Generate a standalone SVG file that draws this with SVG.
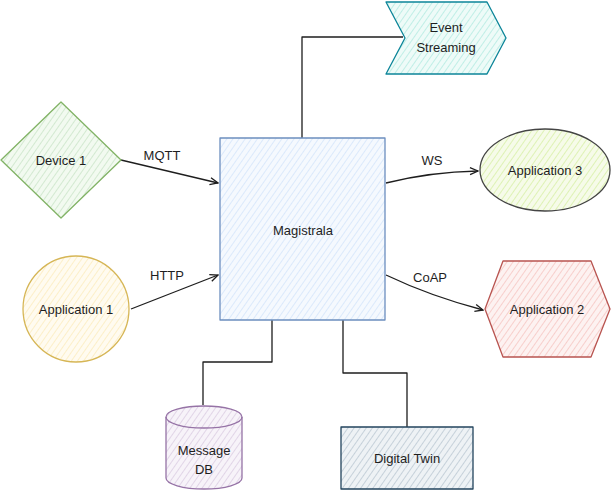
<svg xmlns="http://www.w3.org/2000/svg" width="611" height="491" viewBox="0 0 611 491">
<style>
text{font-family:"Liberation Sans","DejaVu Sans",sans-serif;font-size:13px;fill:#1e1e1e;text-anchor:middle;dominant-baseline:central}
.conn{fill:none;stroke:#1e1e1e;stroke-width:1.3;stroke-linejoin:round}
.shape{stroke-width:1.3;stroke-linejoin:round}
</style>
<defs>
<pattern id="hGreen" width="5" height="5" patternUnits="userSpaceOnUse" patternTransform="rotate(35)"><rect width="5" height="5" fill="#f2faf0"/><line x1="0" y1="0" x2="0" y2="5" stroke="#cce5c9" stroke-width="1.6"/></pattern>
<pattern id="hBlue" width="5" height="5" patternUnits="userSpaceOnUse" patternTransform="rotate(35)"><rect width="5" height="5" fill="#f5f9fe"/><line x1="0" y1="0" x2="0" y2="5" stroke="#d5e5fb" stroke-width="1.6"/></pattern>
<pattern id="hTeal" width="5" height="5" patternUnits="userSpaceOnUse" patternTransform="rotate(35)"><rect width="5" height="5" fill="#eefbf8"/><line x1="0" y1="0" x2="0" y2="5" stroke="#b5ebe2" stroke-width="1.6"/></pattern>
<pattern id="hLime" width="5" height="5" patternUnits="userSpaceOnUse" patternTransform="rotate(35)"><rect width="5" height="5" fill="#f6fbe9"/><line x1="0" y1="0" x2="0" y2="5" stroke="#d8f0a8" stroke-width="1.6"/></pattern>
<pattern id="hRed" width="5" height="5" patternUnits="userSpaceOnUse" patternTransform="rotate(35)"><rect width="5" height="5" fill="#fdf2f1"/><line x1="0" y1="0" x2="0" y2="5" stroke="#f6c6c3" stroke-width="1.6"/></pattern>
<pattern id="hYellow" width="5" height="5" patternUnits="userSpaceOnUse" patternTransform="rotate(35)"><rect width="5" height="5" fill="#fffbf0"/><line x1="0" y1="0" x2="0" y2="5" stroke="#fcedc0" stroke-width="1.6"/></pattern>
<pattern id="hPurple" width="5" height="5" patternUnits="userSpaceOnUse" patternTransform="rotate(35)"><rect width="5" height="5" fill="#f7f3f9"/><line x1="0" y1="0" x2="0" y2="5" stroke="#dccee3" stroke-width="1.6"/></pattern>
<pattern id="hSlate" width="5" height="5" patternUnits="userSpaceOnUse" patternTransform="rotate(35)"><rect width="5" height="5" fill="#eef2f5"/><line x1="0" y1="0" x2="0" y2="5" stroke="#bcc9d4" stroke-width="1.6"/></pattern>
<marker id="arr" markerWidth="10" markerHeight="10" refX="9" refY="5" orient="auto" markerUnits="userSpaceOnUse"><path d="M1,1.5 L9,5 L1,8.5" fill="none" stroke="#1e1e1e" stroke-width="1.3"/></marker>
</defs>

<g id="connectors">
<path class="conn" d="M302,138 L302,37 L403,37"/>
<path class="conn" d="M121,160 L218,183" marker-end="url(#arr)"/>
<path class="conn" d="M131,309 L218,275" marker-end="url(#arr)"/>
<path class="conn" d="M386,183 Q430,172 478,171" marker-end="url(#arr)"/>
<path class="conn" d="M386,275 Q430,296 483,310" marker-end="url(#arr)"/>
<path class="conn" d="M272,320 L272,362 L203,362 L203,405"/>
<path class="conn" d="M343,320 L343,373 L407,373 L407,427"/>
<text x="162" y="155">MQTT</text>
<text x="167" y="275">HTTP</text>
<text x="432" y="160">WS</text>
<text x="430" y="277">CoAP</text>
</g>

<g id="event-streaming">
<polygon class="shape" points="386,2 487,2 506,38 487,74 386,74 405,38" fill="url(#hTeal)" stroke="#0c8599"/>
<text x="446" y="27">Event</text>
<text x="446" y="47">Streaming</text>
</g>

<g id="device-1">
<polygon class="shape" points="1,160 61,102 121,160 61,218" fill="url(#hGreen)" stroke="#82b366"/>
<text x="61" y="160">Device 1</text>
</g>

<g id="magistrala">
<rect class="shape" x="220" y="138" width="165" height="182" fill="url(#hBlue)" stroke="#6c8ebf"/>
<text x="303" y="230">Magistrala</text>
</g>

<g id="application-3">
<ellipse class="shape" cx="545" cy="170" rx="65" ry="41" fill="url(#hLime)" stroke="#444"/>
<text x="545" y="170">Application 3</text>
</g>

<g id="application-2">
<polygon class="shape" points="485,309 503,261 591,261 610,309 591,357 503,357" fill="url(#hRed)" stroke="#b85450"/>
<text x="547" y="309">Application 2</text>
</g>

<g id="application-1">
<circle class="shape" cx="76" cy="309" r="53" fill="url(#hYellow)" stroke="#d6b656"/>
<text x="76" y="309">Application 1</text>
</g>

<g id="message-db">
<path class="shape" d="M166,417 A38,11 0 0 1 242,417 L242,478 A38,11 0 0 1 166,478 Z" fill="url(#hPurple)" stroke="#9673a6"/>
<path class="shape" d="M166,417 A38,11 0 0 0 242,417" fill="none" stroke="#9673a6"/>
<text x="204" y="450">Message</text>
<text x="204" y="469">DB</text>
</g>

<g id="digital-twin">
<rect class="shape" x="341" y="427" width="132" height="62" fill="url(#hSlate)" stroke="#23445d"/>
<text x="407" y="458">Digital Twin</text>
</g>
</svg>
